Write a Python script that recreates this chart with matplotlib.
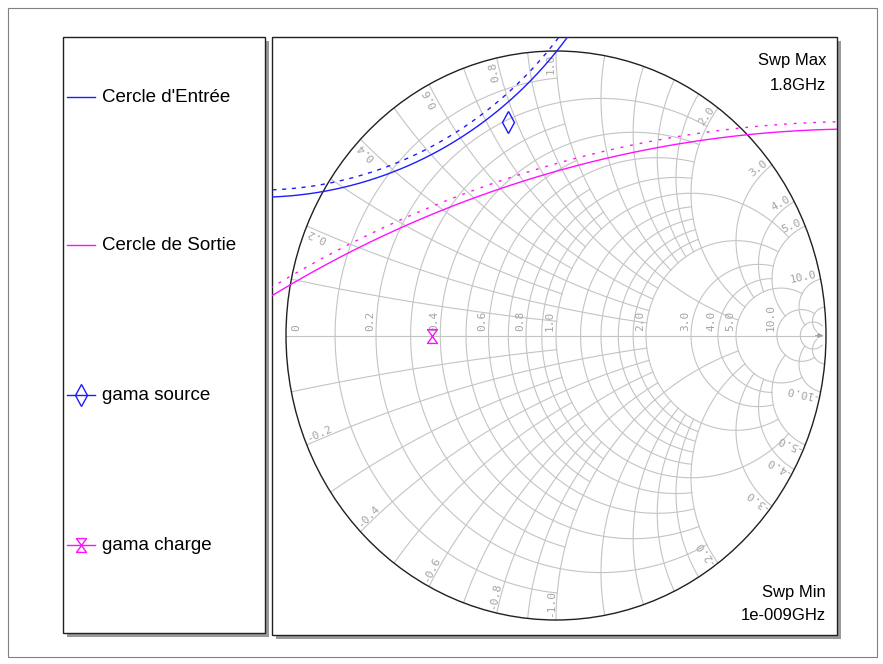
import numpy as np
import matplotlib.pyplot as plt
from matplotlib.patches import Rectangle, Ellipse
from matplotlib.path import Path

plt.rcParams['font.family'] = ['Liberation Sans', 'DejaVu Sans']

# legend entries
series_names = ["Cercle d'Entrée", "Cercle de Sortie", "gama source", "gama charge"]

# stability circles, centre / radius in the reflection-coefficient plane
in_center = [-1.1025, 1.932]
in_radius = 1.446
in_radius_side = 1.421      # dotted companion (unstable side)
out_center = [1.128, -3.621]
out_radius = 4.347
out_radius_side = 4.373

# matching points
gama_source = [-0.178, 0.750]
gama_charge = [-0.461, 0.0]

sweep_max = ["Swp Max", "1.8GHz"]
sweep_min = ["Swp Min", "1e-009GHz"]

# smith grid: (values, limit of the other coordinate)
r_grid = [([0.1, 0.3, 0.5, 0.7, 0.9], 1), ([0.2, 0.4, 0.6, 0.8], 2),
          ([1.2, 1.4, 1.6, 1.8], 2), ([1.0, 2.0, 3.0, 4.0], 5),
          ([5.0], 10), ([10.0], 20), ([20.0], 50)]
x_grid = r_grid
r_labels = [0, 0.2, 0.4, 0.6, 0.8, 1.0, 2.0, 3.0, 4.0, 5.0, 10.0]
x_labels = [0.2, 0.4, 0.6, 0.8, 1.0, 2.0, 3.0, 4.0, 5.0, 10.0]

GRID = '#c4c4c4'
LAB = '#a4a4a4'
BLUE = '#1c1cff'
MAG = '#ff10ff'
SX, SY = 270.0, 284.5       # pixels per unit of gamma (chart is slightly stretched)


def gamma(z):
    return (z - 1) / (z + 1)


def r_arc(r, xmax, n=1500):
    t = np.linspace(-np.arctan(xmax), np.arctan(xmax), n)
    g = gamma(r + 1j * np.tan(t))
    return g.real, g.imag


def x_arc(x, rmax, n=1500):
    t = np.linspace(0, np.arctan(rmax), n)
    g = gamma(np.tan(t) + 1j * x)
    return g.real, g.imag


def screen_angle(g):
    return np.degrees(np.arctan2(g.imag * SY, g.real * SX))


fig = plt.figure(figsize=(8.83, 6.64), dpi=100)

# background: frames and legend in pixel coordinates
bg = fig.add_axes([0, 0, 1, 1])
bg.set_xlim(0, 883)
bg.set_ylim(664, 0)
bg.axis('off')
bg.add_patch(Rectangle((8, 8), 869, 649, fill=False, ec='#808080', lw=0.8))
for x0, y0, w, h in [(63, 37, 202, 596), (272, 37, 565, 598)]:
    bg.add_patch(Rectangle((x0 + 4, y0 + 4), w, h, fc='#9a9a9a', ec='none'))
    bg.add_patch(Rectangle((x0, y0), w, h, fc='white', ec='#202020', lw=1.0))

hourglass = Path([(-0.36, 0.5), (0.36, 0.5), (-0.36, -0.5), (0.36, -0.5), (-0.36, 0.5)])
leg_y = [97, 245, 395, 545]
bg.plot([67, 95], [leg_y[0]] * 2, color=BLUE, lw=1)
bg.plot([67, 95], [leg_y[1]] * 2, color=MAG, lw=1)
bg.plot([67, 95], [leg_y[2]] * 2, color=BLUE, lw=1)
bg.plot([81], [leg_y[2]], marker='d', ms=11, mfc='none', mec=BLUE, mew=1)
bg.plot([67, 95], [leg_y[3]] * 2, color=MAG, lw=1)
bg.plot([81], [leg_y[3]], marker=hourglass, ms=10, mfc='none', mec=MAG, mew=1)
for name, y in zip(series_names, leg_y):
    bg.text(102, y, name, fontsize=13.5, va='center', ha='left')

# smith chart axes
ax = fig.add_axes([272 / 883, 29 / 664, 565 / 883, 598 / 664])
ax.set_xlim(-284 / SX, 281 / SX)
ax.set_ylim((335.5 - 635) / SY, (335.5 - 37) / SY)
ax.axis('off')

for vals, lim in r_grid:
    for r in vals:
        gx, gy = r_arc(r, lim)
        ax.plot(gx, gy, color=GRID, lw=0.8, zorder=1)
for vals, lim in x_grid:
    for x in vals:
        for s in (1, -1):
            gx, gy = x_arc(s * x, lim)
            ax.plot(gx, gy, color=GRID, lw=0.8, zorder=1)
ax.plot([-1, 0.985], [0, 0], color=GRID, lw=0.8, zorder=1)
ax.annotate('', xy=(1.0, 0), xytext=(0.95, 0),
            arrowprops=dict(arrowstyle='-|>', color='#a0a0a0', lw=0.6,
                            mutation_scale=8))
ax.add_patch(Ellipse((0, 0), 2, 2, fill=False, ec='#202020', lw=1.0, zorder=2))

# resistance labels along the real axis
lab_font = dict(fontsize=8, color=LAB, family='DejaVu Sans Mono')
for r in r_labels:
    g = (r - 1) / (r + 1)
    if r == 0:
        ax.text(g + 0.02, 0.015, '0', rotation=90, rotation_mode='anchor',
                ha='left', va='top', **lab_font)
    else:
        ax.text(g - 0.004, 0.015, f'{r:.1f}', rotation=90, rotation_mode='anchor',
                ha='left', va='bottom', **lab_font)

# reactance labels around the rim
for x in x_labels:
    for s in (1, -1):
        g = gamma(1j * s * x)
        th = screen_angle(g)
        p = g * 0.99
        if s > 0:
            ax.text(p.real, p.imag, f'{x:.1f}', rotation=th, rotation_mode='anchor',
                    ha='right', va='bottom', **lab_font)
        else:
            ax.text(p.real, p.imag, f'{-x:.1f}', rotation=th + 180, rotation_mode='anchor',
                    ha='left', va='bottom', **lab_font)

# stability circles
t = np.linspace(0, 2 * np.pi, 2000)
ax.plot(in_center[0] + in_radius * np.cos(t), in_center[1] + in_radius * np.sin(t),
        color=BLUE, lw=1, zorder=3)
ax.plot(in_center[0] + in_radius_side * np.cos(t), in_center[1] + in_radius_side * np.sin(t),
        color=BLUE, lw=1, ls=(0, (3, 4)), zorder=3)
ax.plot(out_center[0] + out_radius * np.cos(t), out_center[1] + out_radius * np.sin(t),
        color=MAG, lw=1, zorder=3)
ax.plot(out_center[0] + out_radius_side * np.cos(t), out_center[1] + out_radius_side * np.sin(t),
        color=MAG, lw=1, ls=(0, (2, 5)), zorder=3)

ax.plot(gama_source[0], gama_source[1], marker='d', ms=11, mfc='none', mec=BLUE, mew=1, zorder=4)
ax.plot(gama_charge[0], gama_charge[1], marker=hourglass, ms=10, mfc='none', mec=MAG, mew=1, zorder=4)

# sweep annotations
for i, s in enumerate(sweep_max):
    bg.text(826, 61 + 25 * i, s, ha='right', va='center', fontsize=12)
for i, s in enumerate(sweep_min):
    bg.text(826, 592 + 23 * i, s, ha='right', va='center', fontsize=12)

fig.savefig('out.png', dpi=100)
